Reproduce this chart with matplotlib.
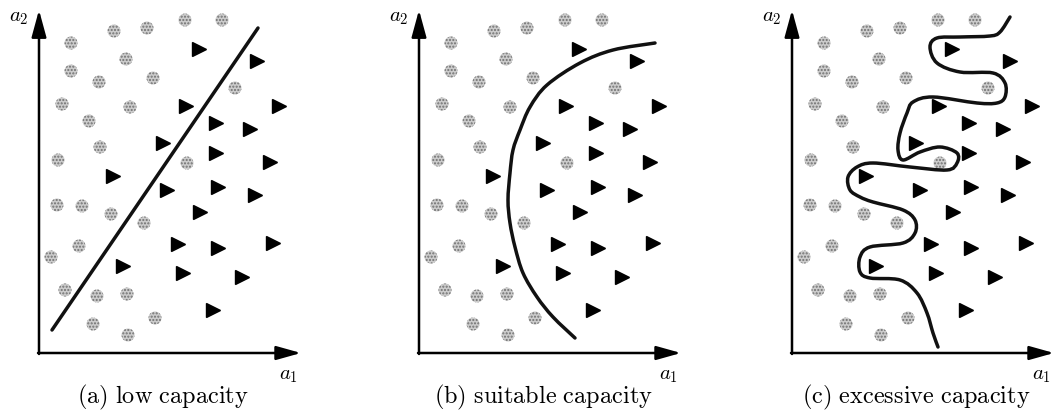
import numpy as np
import matplotlib
matplotlib.use("Agg")
import matplotlib.pyplot as plt
from matplotlib.path import Path
from matplotlib.patches import PathPatch

plt.rcParams['mathtext.fontset'] = 'cm'

# ---- data (a1, a2 coordinates; origin at axis corner) ----
circle_a1 = [146, 183, 75, 108, 32, 87, 32, 60, 114, 196, 23, 91, 50, 61, 19, 148,
             18, 43, 72, 105, 40, 12, 26, 58, 88, 54, 116, 89]
circle_a2 = [333, 333, 322, 325, 310, 294, 282, 271, 275, 265, 249, 246, 232, 206, 193, 190,
             148, 147, 139, 130, 107, 96, 63, 57, 59, 29, 35, 18]

tri_a1 = [160, 218, 240, 147, 177, 211, 124, 177, 231, 74, 128, 179, 216, 161, 139, 179,
          234, 84, 144, 203, 174]
tri_a2 = [304, 292, 247, 247, 230, 224, 210, 200, 191, 177, 163, 166, 158, 141, 109, 105,
          110, 87, 80, 76, 43]

# decision boundaries
low_a1 = [13, 219]
low_a2 = [23, 325]

suit_a1 = [236, 194, 161, 128, 111, 101, 94, 91, 89, 91, 96, 104, 118, 134, 156]
suit_a2 = [310, 303, 290, 268, 246, 223, 203, 180, 153, 130, 106, 80, 56, 36, 15]

exc_a1 = [218, 208, 198, 168, 145, 138, 145, 168, 201, 213, 213, 205, 185, 141, 121, 115,
          108, 106, 111, 128, 148, 165, 165, 155, 118, 81, 65, 56, 58, 68, 81, 111, 123, 123,
          111, 78, 68, 68, 78, 108, 125, 135, 141, 146]
exc_a2 = [336, 321, 317, 316, 315, 306, 290, 281, 280, 270, 256, 250, 250, 256, 251, 240,
          220, 203, 193, 201, 206, 200, 190, 183, 186, 190, 186, 176, 163, 156, 151, 143, 133, 120,
          110, 106, 96, 81, 75, 73, 60, 40, 20, 6]

captions = [r'$\mathrm{(a)\ low\ capacity}$',
            r'$\mathrm{(b)\ suitable\ capacity}$',
            r'$\mathrm{(c)\ excessive\ capacity}$']
boundaries = [(low_a1, low_a2), (suit_a1, suit_a2), (exc_a1, exc_a2)]
offsets_px = [0, 380, 753]


def smooth_path(xs, ys):
    pts = np.column_stack([xs, ys]).astype(float)
    n = len(pts)
    if n == 2:
        return Path(pts, [Path.MOVETO, Path.LINETO])
    verts = [pts[0]]
    codes = [Path.MOVETO]
    for i in range(n - 1):
        p0 = pts[i - 1] if i > 0 else pts[i]
        p1 = pts[i]
        p2 = pts[i + 1]
        p3 = pts[i + 2] if i + 2 < n else pts[i + 1]
        c1 = p1 + (p2 - p0) / 6.0
        c2 = p2 - (p3 - p1) / 6.0
        verts += [c1, c2, p2]
        codes += [Path.CURVE4] * 3
    return Path(verts, codes)


W, H = 1056, 412
fig = plt.figure(figsize=(W / 100, H / 100), dpi=100)
fig.patch.set_facecolor('white')

for k, off in enumerate(offsets_px):
    ax = fig.add_axes([off / W, 0, 303 / W, 1])
    ax.set_xlim(-39, 264)
    ax.set_ylim(-59, 353)
    ax.axis('off')

    # axes arrows
    ax.annotate('', xy=(0, 343), xytext=(0, -1),
                arrowprops=dict(arrowstyle='-|>,head_length=1.65,head_width=0.45',
                                lw=1.8, color='black', mutation_scale=10,
                                shrinkA=0, shrinkB=0))
    ax.annotate('', xy=(262, 0), xytext=(-1, 0),
                arrowprops=dict(arrowstyle='-|>,head_length=1.5,head_width=0.42',
                                lw=1.8, color='black', mutation_scale=10,
                                shrinkA=0, shrinkB=0))
    ax.text(-20, 336, r'$a_2$', fontsize=15, ha='center', va='center')
    ax.text(250, -22, r'$a_1$', fontsize=15, ha='center', va='center')
    ax.text(124, -44, captions[k], fontsize=17.5, ha='center', va='center')

    ax.scatter(circle_a1, circle_a2, s=88, facecolor='#cccccc', edgecolor='#707070',
               linewidths=0, hatch='.....', zorder=3)
    ax.plot(tri_a1, tri_a2, linestyle='none', marker='>', markersize=9.5,
            color='black', zorder=3)

    bx, by = boundaries[k]
    ax.add_patch(PathPatch(smooth_path(bx, by), facecolor='none',
                           edgecolor='#111111', lw=2.5, zorder=4,
                           capstyle='round'))

fig.savefig('out.png', dpi=100, facecolor='white')
